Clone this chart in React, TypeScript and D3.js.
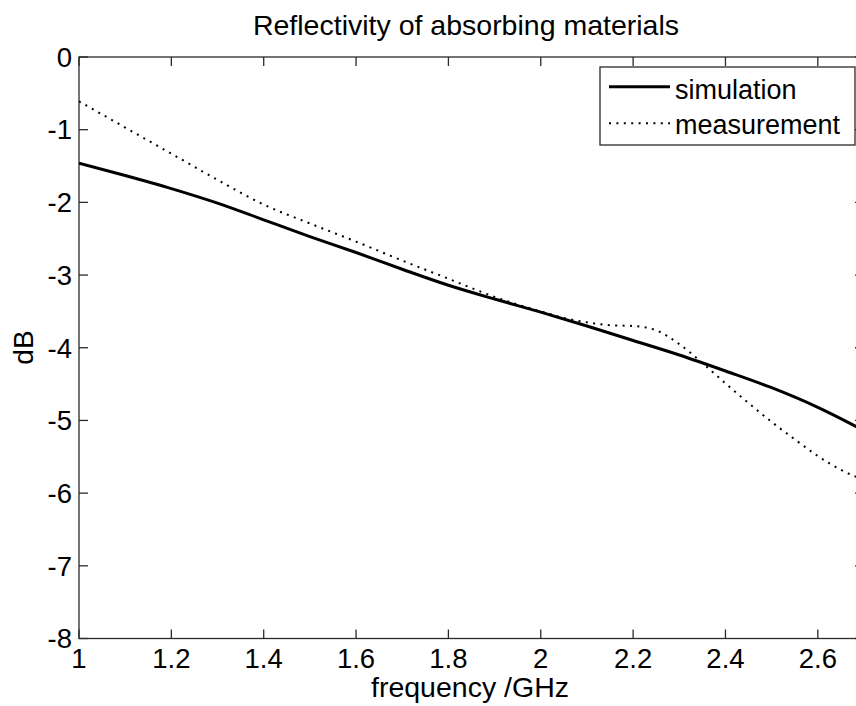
import React, { useEffect, useRef } from "react";
import * as d3 from "d3";

// values
const simFreq = [1.0, 1.1, 1.2, 1.3, 1.4, 1.5, 1.6, 1.7, 1.8, 1.9, 2.0, 2.1, 2.2, 2.3, 2.4, 2.5, 2.6, 2.7];
const simDb = [-1.46, -1.63, -1.81, -2.01, -2.24, -2.47, -2.69, -2.92, -3.14, -3.33, -3.51, -3.7, -3.9, -4.1, -4.32, -4.55, -4.82, -5.14];

const measFreq = [1.0, 1.1, 1.2, 1.3, 1.4, 1.5, 1.6, 1.7, 1.8, 1.9, 2.0, 2.05, 2.1, 2.15, 2.2, 2.25, 2.3, 2.35, 2.4, 2.45, 2.5, 2.55, 2.6, 2.65, 2.7];
const measDb = [-0.61, -0.97, -1.33, -1.69, -2.03, -2.29, -2.54, -2.8, -3.05, -3.3, -3.5, -3.59, -3.65, -3.69, -3.7, -3.76, -3.95, -4.21, -4.49, -4.76, -5.02, -5.26, -5.49, -5.68, -5.82];

const xTicks = [1, 1.2, 1.4, 1.6, 1.8, 2, 2.2, 2.4, 2.6];
const yTicks = [0, -1, -2, -3, -4, -5, -6, -7, -8];

const title = "Reflectivity of absorbing materials";
const xLabel = "frequency /GHz";
const yLabel = "dB";
const legendNames = ["simulation", "measurement"];

const W = 856;
const H = 706;
const FONT = "'Liberation Sans', Arial, sans-serif";

export default function App() {
    const ref = useRef<SVGSVGElement>(null);

    useEffect(() => {
        const svg = d3.select(ref.current);
        svg.selectAll("*").remove();

        const margin = { left: 79, top: 57, right: 864, bottom: 638.5 };
        const x = d3.scaleLinear().domain([1, 2.7]).range([margin.left, margin.right]);
        const y = d3.scaleLinear().domain([0, -8]).range([margin.top, margin.bottom]);
        const axisColor = "#2a2a2a";
        const tickLen = 9;

        svg.append("rect").attr("width", W).attr("height", H).attr("fill", "#fff");

        // box
        svg.append("rect")
            .attr("x", margin.left)
            .attr("y", margin.top)
            .attr("width", margin.right - margin.left)
            .attr("height", margin.bottom - margin.top)
            .attr("fill", "none")
            .attr("stroke", axisColor)
            .attr("stroke-width", 1.3);

        const g = svg.append("g").attr("stroke", axisColor).attr("stroke-width", 1.3);
        xTicks.forEach(t => {
            g.append("line").attr("x1", x(t)).attr("x2", x(t)).attr("y1", margin.bottom).attr("y2", margin.bottom - tickLen);
            g.append("line").attr("x1", x(t)).attr("x2", x(t)).attr("y1", margin.top).attr("y2", margin.top + tickLen);
        });
        yTicks.forEach(t => {
            g.append("line").attr("x1", margin.left).attr("x2", margin.left + tickLen).attr("y1", y(t)).attr("y2", y(t));
            g.append("line").attr("x1", margin.right).attr("x2", margin.right - tickLen).attr("y1", y(t)).attr("y2", y(t));
        });

        svg.selectAll("text.xt")
            .data(xTicks)
            .join("text")
            .attr("class", "xt")
            .attr("x", d => x(d))
            .attr("y", 668)
            .attr("text-anchor", "middle")
            .attr("font-family", FONT)
            .attr("font-size", 27.5)
            .text(d => String(d));

        svg.selectAll("text.yt")
            .data(yTicks)
            .join("text")
            .attr("class", "yt")
            .attr("x", 72)
            .attr("y", d => y(d) + 9.8)
            .attr("text-anchor", "end")
            .attr("font-family", FONT)
            .attr("font-size", 27.5)
            .text(d => String(d));

        svg.append("text")
            .attr("x", 466)
            .attr("y", 35)
            .attr("text-anchor", "middle")
            .attr("font-family", FONT)
            .attr("font-size", 28.5)
            .text(title);

        svg.append("text")
            .attr("x", 470)
            .attr("y", 697)
            .attr("text-anchor", "middle")
            .attr("font-family", FONT)
            .attr("font-size", 28.5)
            .text(xLabel);

        svg.append("text")
            .attr("transform", "translate(32.5,347.5) rotate(-90)")
            .attr("text-anchor", "middle")
            .attr("font-family", FONT)
            .attr("font-size", 28)
            .text(yLabel);

        const line = d3.line<[number, number]>()
            .x(d => x(d[0]))
            .y(d => y(d[1]))
            .curve(d3.curveMonotoneX);

        svg.append("clipPath").attr("id", "plotclip")
            .append("rect")
            .attr("x", margin.left)
            .attr("y", margin.top)
            .attr("width", margin.right - margin.left)
            .attr("height", margin.bottom - margin.top);

        const plot = svg.append("g").attr("clip-path", "url(#plotclip)");

        plot.append("path")
            .attr("d", line(simFreq.map((f, i) => [f, simDb[i]] as [number, number])))
            .attr("fill", "none")
            .attr("stroke", "#000")
            .attr("stroke-width", 3);

        plot.append("path")
            .attr("d", line(measFreq.map((f, i) => [f, measDb[i]] as [number, number])))
            .attr("fill", "none")
            .attr("stroke", "#000")
            .attr("stroke-width", 2)
            .attr("stroke-dasharray", "2 5.4");

        // legend
        const lg = svg.append("g");
        lg.append("rect")
            .attr("x", 600)
            .attr("y", 67)
            .attr("width", 255)
            .attr("height", 78)
            .attr("fill", "#fff")
            .attr("stroke", axisColor)
            .attr("stroke-width", 1.3);
        lg.append("line")
            .attr("x1", 609).attr("x2", 670).attr("y1", 86.7).attr("y2", 86.7)
            .attr("stroke", "#000").attr("stroke-width", 3);
        lg.append("line")
            .attr("x1", 609).attr("x2", 670).attr("y1", 123.3).attr("y2", 123.3)
            .attr("stroke", "#000").attr("stroke-width", 2)
            .attr("stroke-dasharray", "2 5.4");
        lg.selectAll("text")
            .data(legendNames)
            .join("text")
            .attr("x", 675)
            .attr("y", (d, i) => (i === 0 ? 98.5 : 134))
            .attr("font-family", FONT)
            .attr("font-size", 27)
            .text(d => d);
    }, []);

    return (
        <svg
            ref={ref}
            width={W}
            height={H}
            style={{ position: "absolute", left: 0, top: 0, display: "block" }}
        />
    );
}
